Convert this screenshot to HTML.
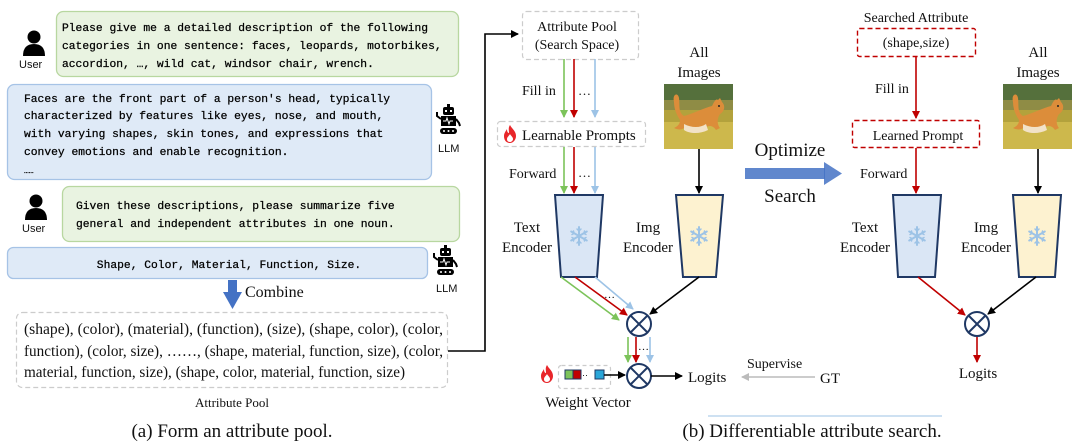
<!DOCTYPE html>
<html><head><meta charset="utf-8"><style>
html,body{margin:0;padding:0;background:#fff;}
svg{display:block;}
.m{font-family:"Liberation Mono",monospace;font-size:11.3px;fill:#000;stroke:#000;stroke-width:0.25;}
.s{font-family:"Liberation Serif",serif;fill:#111;}
.u{font-family:"Liberation Sans",sans-serif;font-size:11px;fill:#111;}
</style></head><body>
<svg width="1080" height="446" viewBox="0 0 1080 446" xmlns="http://www.w3.org/2000/svg">
<defs>
<marker id="ak" markerWidth="8" markerHeight="8" refX="7" refY="4" orient="auto" markerUnits="userSpaceOnUse"><path d="M0,0 L8,4 L0,8 z" fill="#000"/></marker>
<marker id="ar" markerWidth="8" markerHeight="8" refX="7" refY="4" orient="auto" markerUnits="userSpaceOnUse"><path d="M0,0 L8,4 L0,8 z" fill="#c00000"/></marker>
<marker id="ag" markerWidth="8" markerHeight="8" refX="7" refY="4" orient="auto" markerUnits="userSpaceOnUse"><path d="M0,0 L8,4 L0,8 z" fill="#7cc35a"/></marker>
<marker id="ab" markerWidth="8" markerHeight="8" refX="7" refY="4" orient="auto" markerUnits="userSpaceOnUse"><path d="M0,0 L8,4 L0,8 z" fill="#9dc3e6"/></marker>
<marker id="agr" markerWidth="8" markerHeight="8" refX="7" refY="4" orient="auto" markerUnits="userSpaceOnUse"><path d="M0,0 L8,4 L0,8 z" fill="#bbb"/></marker>
<symbol id="user" viewBox="0 0 24 26"><circle cx="12" cy="7" r="6.5" fill="#000"/><path d="M1,26 Q1,14 12,14 Q23,14 23,26 z" fill="#000"/></symbol>
<symbol id="robot" viewBox="0 0 26 32"><rect x="11" y="0" width="3" height="3" fill="#000"/><rect x="7" y="3" width="11" height="8" rx="2" fill="#000"/><rect x="9" y="6" width="2" height="2" fill="#fff"/><rect x="14" y="6" width="2" height="2" fill="#fff"/><rect x="5" y="12" width="15" height="10" fill="#000"/><path d="M7,17 l3,0 l1,-3 l2,6 l1,-3 l3,0" stroke="#fff" fill="none" stroke-width="1"/><path d="M5,15 L1,12 L1,8" stroke="#000" stroke-width="2" fill="none"/><path d="M20,15 L23,19 L24,22" stroke="#000" stroke-width="2" fill="none"/><rect x="4" y="24" width="17" height="6" rx="3" fill="#000"/><circle cx="8" cy="27" r="1" fill="#fff"/><circle cx="12.5" cy="27" r="1" fill="#fff"/><circle cx="17" cy="27" r="1" fill="#fff"/></symbol>
<symbol id="snow" viewBox="-10 -10 20 20"><g stroke="#9dc3e6" stroke-width="2" stroke-linecap="round"><path d="M0,-9 V9 M-7.8,-4.5 L7.8,4.5 M-7.8,4.5 L7.8,-4.5"/><path d="M-2,-7 L0,-5 L2,-7 M-2,7 L0,5 L2,7 M-7,-1.5 L-5,-2.5 L-5.5,-5 M7,1.5 L5,2.5 L5.5,5 M-7,1.5 L-5,2.5 L-5.5,5 M7,-1.5 L5,-2.5 L5.5,-5" fill="none" stroke-width="1.5"/></g></symbol>
<symbol id="flame" viewBox="0 0 14 18"><path d="M7,0 C9,4 13,6 13,11 C13,15 10,18 7,18 C3,18 1,15 1,11 C1,8 3,6 4,4 C4,7 5,8 6,8 C6,5 5,3 7,0z" fill="#e8262a"/><path d="M7,9 C8,11 10,12 10,14 C10,16 8,17 7,17 C5,17 4,16 4,14 C4,12 6,11 7,9z" fill="#fff"/></symbol>
<symbol id="dog" viewBox="0 0 69 65"><rect width="69" height="65" fill="#b3a23c"/><rect width="69" height="20" fill="#55703c"/><rect y="16" width="69" height="10" fill="#8f8c45"/><rect y="38" width="69" height="27" fill="#cdb84c"/><path d="M10,18 C8,10 14,8 15,14 C16,22 14,28 20,32 C28,30 40,24 48,22 C50,18 52,14 54,16 L56,14 L58,18 C62,22 60,28 56,30 C52,36 54,42 56,44 L52,46 C48,40 44,42 40,44 C34,48 26,48 20,44 C18,46 14,46 10,44 C14,42 16,40 16,36 C12,30 10,24 10,18z" fill="#dc8d3a"/><path d="M20,40 C28,44 36,44 42,40 L44,46 C36,50 26,50 20,46z" fill="#f2e2c8"/><circle cx="55" cy="22" r="1" fill="#222"/></symbol>
</defs>

<!-- LEFT PANEL -->
<rect x="56.5" y="11.5" width="402" height="65" rx="7" fill="#e9f3e1" stroke="#b8d7a0" stroke-width="1.3"/>
<text class="m" x="62" y="31">Please give me a detailed description of the following</text>
<text class="m" x="62" y="49">categories in one sentence: faces, leopards, motorbikes,</text>
<text class="m" x="62" y="67">accordion, …, wild cat, windsor chair, wrench.</text>
<use href="#user" x="22" y="30" width="24" height="26"/>
<text class="u" x="19" y="68">User</text>

<rect x="7.5" y="84.5" width="424" height="95" rx="7" fill="#dfeaf7" stroke="#a6c3e6" stroke-width="1.3"/>
<text class="m" x="24" y="102">Faces are the front part of a person's head, typically</text>
<text class="m" x="24" y="119">characterized by features like eyes, nose, and mouth,</text>
<text class="m" x="24" y="137">with varying shapes, skin tones, and expressions that</text>
<text class="m" x="24" y="155">convey emotions and enable recognition.</text>
<text class="m" x="24" y="173" style="font-size:8px">……</text>
<use href="#robot" x="436" y="104" width="26" height="32"/>
<text class="u" x="438" y="152">LLM</text>

<rect x="62.5" y="186.5" width="397" height="55" rx="7" fill="#e9f3e1" stroke="#b8d7a0" stroke-width="1.3"/>
<text class="m" x="76" y="209">Given these descriptions, please summarize five</text>
<text class="m" x="76" y="227">general and independent attributes in one noun.</text>
<use href="#user" x="24" y="194" width="24" height="26"/>
<text class="u" x="22" y="232">User</text>

<rect x="7.5" y="247.5" width="420" height="31" rx="6" fill="#dfeaf7" stroke="#a6c3e6" stroke-width="1.3"/>
<text class="m" x="229" y="268" text-anchor="middle">Shape, Color, Material, Function, Size.</text>
<use href="#robot" x="433" y="245" width="26" height="32"/>
<text class="u" x="436" y="292">LLM</text>

<rect x="228" y="280" width="9" height="14" fill="#4472c4"/>
<path d="M223,292 L242,292 L232.5,309 z" fill="#4472c4"/>
<text class="s" x="245" y="297" font-size="16">Combine</text>

<rect x="16.5" y="312.5" width="431" height="75" rx="6" fill="none" stroke="#ccc" stroke-width="1.2" stroke-dasharray="5,3"/>
<text class="s" x="24" y="334" font-size="15.5" textLength="419" lengthAdjust="spacingAndGlyphs">(shape), (color), (material), (function), (size), (shape, color), (color,</text>
<text class="s" x="24" y="356" font-size="15.5" textLength="419" lengthAdjust="spacingAndGlyphs">function), (color, size), ……, (shape, material, function, size), (color,</text>
<text class="s" x="24" y="377" font-size="15.5" textLength="381" lengthAdjust="spacingAndGlyphs">material, function, size), (shape, color, material, function, size)</text>
<text class="s" x="232" y="407" font-size="13" text-anchor="middle">Attribute Pool</text>
<text class="s" x="232" y="437" font-size="19" text-anchor="middle">(a) Form an attribute pool.</text>

<path d="M448,351 H485 V34 H518" fill="none" stroke="#000" stroke-width="1.6" marker-end="url(#ak)"/>

<!-- MIDDLE PANEL -->
<rect x="522.5" y="11.5" width="116" height="48" rx="4" fill="none" stroke="#ccc" stroke-width="1.2" stroke-dasharray="5,3"/>
<text class="s" x="577" y="31" font-size="14" text-anchor="middle">Attribute Pool</text>
<text class="s" x="577" y="49" font-size="14" text-anchor="middle">(Search Space)</text>
<g stroke-width="1.6">
<line x1="564" y1="59" x2="564" y2="117" stroke="#7cc35a" marker-end="url(#ag)"/>
<line x1="574" y1="59" x2="574" y2="117" stroke="#c00000" marker-end="url(#ar)"/>
<line x1="595" y1="59" x2="595" y2="117" stroke="#9dc3e6" marker-end="url(#ab)"/>
</g>
<text class="s" x="522" y="95" font-size="14">Fill in</text>
<text class="s" x="578" y="95" font-size="13">…</text>

<rect x="497.5" y="121.5" width="148" height="25" rx="3" fill="none" stroke="#ccc" stroke-width="1.2" stroke-dasharray="5,3"/>
<use href="#flame" x="503" y="125" width="14" height="18"/>
<text class="s" x="522" y="140" font-size="15">Learnable Prompts</text>
<g stroke-width="1.6">
<line x1="564" y1="147" x2="564" y2="193" stroke="#7cc35a" marker-end="url(#ag)"/>
<line x1="574" y1="147" x2="574" y2="193" stroke="#c00000" marker-end="url(#ar)"/>
<line x1="595" y1="147" x2="595" y2="193" stroke="#9dc3e6" marker-end="url(#ab)"/>
</g>
<text class="s" x="509" y="178" font-size="14">Forward</text>
<text class="s" x="578" y="177" font-size="13">…</text>

<path d="M555,195 H603 L597,277 H561 z" fill="#dae6f5" stroke="#1f3864" stroke-width="2"/>
<use href="#snow" x="569" y="226" width="20" height="20"/>
<text class="s" x="527" y="232" font-size="15" text-anchor="middle">Text</text>
<text class="s" x="527" y="252" font-size="15" text-anchor="middle">Encoder</text>

<text class="s" x="699" y="57" font-size="15" text-anchor="middle">All</text>
<text class="s" x="699" y="77" font-size="15" text-anchor="middle">Images</text>
<use href="#dog" x="664" y="84" width="69" height="65"/>
<line x1="699" y1="149" x2="699" y2="193" stroke="#000" stroke-width="1.6" marker-end="url(#ak)"/>
<path d="M676,195 H723 L716,277 H683 z" fill="#fdf2d0" stroke="#1f3864" stroke-width="2"/>
<use href="#snow" x="689" y="226" width="20" height="20"/>
<text class="s" x="648" y="232" font-size="15" text-anchor="middle">Img</text>
<text class="s" x="648" y="252" font-size="15" text-anchor="middle">Encoder</text>

<g stroke-width="1.6">
<line x1="561" y1="277" x2="619" y2="320" stroke="#7cc35a" marker-end="url(#ag)"/>
<line x1="575" y1="277" x2="627" y2="315" stroke="#c00000" marker-end="url(#ar)"/>
<line x1="595" y1="277" x2="633" y2="309" stroke="#9dc3e6" marker-end="url(#ab)"/>
<line x1="699" y1="277" x2="650" y2="314" stroke="#000" marker-end="url(#ak)"/>
</g>
<text class="s" x="604" y="298" font-size="11">…</text>
<circle cx="639" cy="324" r="12" fill="#fff" stroke="#1f3864" stroke-width="2"/>
<path d="M630.5,315.5 L647.5,332.5 M647.5,315.5 L630.5,332.5" stroke="#1f3864" stroke-width="2"/>

<g stroke-width="1.6">
<line x1="628" y1="337" x2="628" y2="362" stroke="#7cc35a" marker-end="url(#ag)"/>
<line x1="636" y1="337" x2="636" y2="362" stroke="#c00000" marker-end="url(#ar)"/>
<line x1="650" y1="337" x2="650" y2="362" stroke="#9dc3e6" marker-end="url(#ab)"/>
</g>
<text class="s" x="638" y="350" font-size="11">…</text>
<circle cx="639" cy="376" r="12" fill="#fff" stroke="#1f3864" stroke-width="2"/>
<path d="M630.5,367.5 L647.5,384.5 M647.5,367.5 L630.5,384.5" stroke="#1f3864" stroke-width="2"/>

<rect x="558.5" y="365.5" width="52" height="23" rx="3" fill="none" stroke="#ccc" stroke-width="1.2" stroke-dasharray="4,3"/>
<use href="#flame" x="540" y="365" width="14" height="18"/>
<rect x="565" y="370" width="8" height="9" fill="#7cc35a" stroke="#1f3864" stroke-width="1"/>
<rect x="573" y="370" width="8" height="9" fill="#c00000" stroke="#1f3864" stroke-width="1"/>
<text x="582" y="378" font-size="9" font-family="Liberation Sans">··</text>
<rect x="595" y="370" width="9" height="9" fill="#2aa6d8" stroke="#1f3864" stroke-width="1"/>
<line x1="604" y1="375" x2="625" y2="375" stroke="#000" stroke-width="1.6" marker-end="url(#ak)"/>
<line x1="651" y1="376" x2="682" y2="376" stroke="#000" stroke-width="1.6" marker-end="url(#ak)"/>
<text class="s" x="688" y="382" font-size="15">Logits</text>
<text class="s" x="588" y="407" font-size="15" text-anchor="middle">Weight Vector</text>

<text class="s" x="747" y="368" font-size="14">Supervise</text>
<text class="s" x="820" y="383" font-size="15">GT</text>
<line x1="815" y1="377" x2="742" y2="377" stroke="#bbb" stroke-width="1.6" marker-end="url(#agr)"/>

<line x1="708" y1="416" x2="942" y2="416" stroke="#9dc3e6" stroke-width="1"/>
<text class="s" x="812" y="437" font-size="19" text-anchor="middle">(b) Differentiable attribute search.</text>

<!-- Optimize arrow -->
<text class="s" x="790" y="156" font-size="19" text-anchor="middle">Optimize</text>
<rect x="745" y="168" width="80" height="11" fill="#4472c4" opacity="0.85"/>
<path d="M824,162 L842,173.5 L824,185 z" fill="#4472c4" opacity="0.85"/>
<text class="s" x="790" y="202" font-size="19" text-anchor="middle">Search</text>

<!-- RIGHT PANEL -->
<text class="s" x="916" y="22" font-size="14" text-anchor="middle">Searched Attribute</text>
<rect x="857.5" y="28.5" width="118" height="28" rx="2" fill="none" stroke="#c00000" stroke-width="1.4" stroke-dasharray="5,3"/>
<text class="s" x="916" y="47" font-size="14" text-anchor="middle">(shape,size)</text>
<line x1="916" y1="57" x2="916" y2="118" stroke="#c00000" stroke-width="1.6" marker-end="url(#ar)"/>
<text class="s" x="875" y="93" font-size="14">Fill in</text>
<rect x="852.5" y="120.5" width="127" height="27" rx="2" fill="none" stroke="#c00000" stroke-width="1.4" stroke-dasharray="5,3"/>
<text class="s" x="918" y="140" font-size="14" text-anchor="middle">Learned Prompt</text>
<line x1="916" y1="148" x2="916" y2="193" stroke="#c00000" stroke-width="1.6" marker-end="url(#ar)"/>
<text class="s" x="860" y="178" font-size="14">Forward</text>

<path d="M893,195 H941 L935,277 H898 z" fill="#dae6f5" stroke="#1f3864" stroke-width="2"/>
<use href="#snow" x="907" y="226" width="20" height="20"/>
<text class="s" x="865" y="232" font-size="15" text-anchor="middle">Text</text>
<text class="s" x="865" y="252" font-size="15" text-anchor="middle">Encoder</text>

<text class="s" x="1038" y="57" font-size="15" text-anchor="middle">All</text>
<text class="s" x="1038" y="77" font-size="15" text-anchor="middle">Images</text>
<use href="#dog" x="1003" y="84" width="69" height="65"/>
<line x1="1038" y1="149" x2="1038" y2="193" stroke="#000" stroke-width="1.6" marker-end="url(#ak)"/>
<path d="M1013,195 H1061 L1055,277 H1019 z" fill="#fdf2d0" stroke="#1f3864" stroke-width="2"/>
<use href="#snow" x="1027" y="226" width="20" height="20"/>
<text class="s" x="986" y="232" font-size="15" text-anchor="middle">Img</text>
<text class="s" x="986" y="252" font-size="15" text-anchor="middle">Encoder</text>

<line x1="918" y1="277" x2="965" y2="315" stroke="#c00000" stroke-width="1.6" marker-end="url(#ar)"/>
<line x1="1036" y1="277" x2="988" y2="314" stroke="#000" stroke-width="1.6" marker-end="url(#ak)"/>
<circle cx="977" cy="324" r="12" fill="#fff" stroke="#1f3864" stroke-width="2"/>
<path d="M968.5,315.5 L985.5,332.5 M985.5,315.5 L968.5,332.5" stroke="#1f3864" stroke-width="2"/>
<line x1="977" y1="337" x2="977" y2="362" stroke="#c00000" stroke-width="1.6" marker-end="url(#ar)"/>
<text class="s" x="978" y="378" font-size="15" text-anchor="middle">Logits</text>
</svg>
</body></html>
